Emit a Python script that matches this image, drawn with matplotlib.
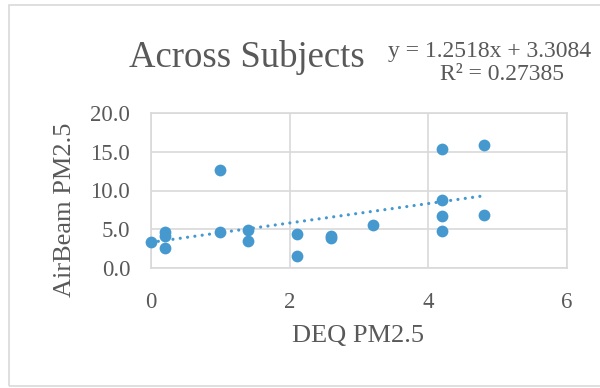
import matplotlib
matplotlib.use("Agg")
import matplotlib.pyplot as plt
from matplotlib.patches import Rectangle
import numpy as np

# ── data ──────────────────────────────────────────────────────
deq = [0.0, 0.2, 0.2, 0.2, 1.0, 1.0, 1.4, 1.4, 2.1, 2.1, 2.6, 2.6,
       3.2, 4.2, 4.2, 4.2, 4.2, 4.8, 4.8]
airbeam = [3.3, 4.7, 4.1, 2.6, 12.7, 4.6, 4.9, 3.5, 4.4, 1.6, 3.9, 4.1,
           5.5, 15.3, 8.8, 6.7, 4.8, 15.9, 6.9]

slope, intercept = 1.2518, 3.3084
r2 = 0.27385
xticks = [0, 2, 4, 6]
yticks = [0, 5, 10, 15, 20]

BLUE = "#4599cf"
TXT = "#595959"
GRID = "#d9d9d9"
FONT = "Liberation Serif"

plt.rcParams["font.family"] = [FONT, "DejaVu Serif"]

fig = plt.figure(figsize=(6, 3.88), dpi=100)

# chart-area frame
fig.patches.append(Rectangle((9 / 600, 1 - 386 / 388), 600, 381 / 388,
                             transform=fig.transFigure, fill=False,
                             edgecolor=GRID, linewidth=1.2))

ax = fig.add_axes([151 / 600, 1 - 268 / 388, 416 / 600, 155 / 388])
ax.set_xlim(0, 6)
ax.set_ylim(0, 20)
ax.set_xticks(xticks)
ax.set_yticks(yticks)
ax.set_yticklabels([f"{v:.1f}" for v in yticks])
ax.grid(True, color=GRID, linewidth=1.2)
ax.set_axisbelow(True)
for s in ax.spines.values():
    s.set_color(GRID)
    s.set_linewidth(1.2)
ax.tick_params(length=0, labelsize=16.5, colors=TXT, pad=15)
ax.tick_params(axis="x", pad=17)

# trendline over data range
xs = np.array([min(deq), max(deq)])
ax.plot(xs, slope * xs + intercept, color=BLUE, linewidth=2.3,
        linestyle=(0, (0.01, 2.3)), dash_capstyle="round", zorder=2)

ax.scatter(deq, airbeam, s=72, color=BLUE, linewidths=0, zorder=3,
           clip_on=False)

fig.text(246.5 / 600, 1 - 67 / 388, "Across Subjects", ha="center",
         va="baseline", fontsize=26.5, color=TXT)
fig.text(490 / 600, 1 - 57 / 388, f"y = {slope}x + {intercept}",
         ha="center", va="baseline", fontsize=17, color=TXT)
fig.text(502 / 600, 1 - 80 / 388, f"R² = {r2}",
         ha="center", va="baseline", fontsize=17, color=TXT)

fig.text(358.5 / 600, 1 - 336 / 388, "DEQ PM2.5", ha="center",
         va="center", fontsize=19, color=TXT)
fig.text(65 / 600, 1 - 209.5 / 388, "AirBeam PM2.5", ha="center",
         va="center", rotation=90, fontsize=19, color=TXT)

fig.savefig("out.png", dpi=100)
